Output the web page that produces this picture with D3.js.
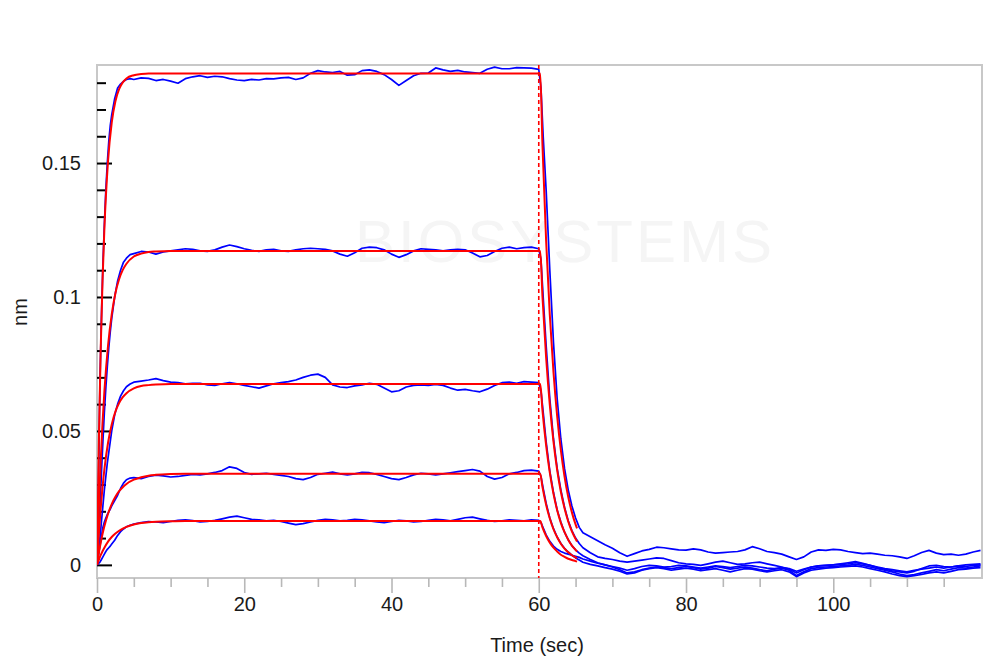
<!DOCTYPE html>
<html><head><meta charset="utf-8">
<script src="https://cdn.jsdelivr.net/npm/d3@7"></script>
<style>
html,body{margin:0;padding:0;background:#fff;}
svg{display:block;}
text{font-family:"Liberation Sans",Arial,sans-serif;}
</style></head>
<body>
<svg id="chart" width="1000" height="669"></svg>
<script>
// ---------- DATA ----------
const xTickLabels = [0, 20, 40, 60, 80, 100];
const yTickValues = [0, 0.05, 0.1, 0.15];
const yTickLabels = ["0", "0.05", "0.1", "0.15"];
const xLabel = "Time (sec)";
const yLabel = "nm";
const watermark = "BIOSYSTEMS";

// measured sensorgram sampling times (s)
const time = [0,0.2,0.4,0.6,0.8,1,1.2,1.4,1.6,1.8,2,2.4,2.8,3.2,3.6,4,4.5,5,
6,7,8,9,10,11,12,13,14,15,16,17,18,19,20,21,22,23,24,25,26,27,28,29,30,31,32,33,34,35,36,37,38,39,40,41,42,43,44,45,46,47,48,49,50,51,52,53,54,55,56,57,58,59,60,
60.3,60.6,61,61.5,62,62.5,63,63.5,64,64.5,65,65.5,66,
67,68,69,70,71,72,73,74,75,76,77,78,79,80,81,82,83,84,85,86,87,88,89,90,91,92,93,94,95,96,97,98,99,100,101,102,103,104,105,106,107,108,109,110,111,112,113,114,115,116,117,118,119,120];

// measured responses (nm), blue traces
const s5 = [0,0.030,0.068,0.092,0.112,0.127,0.140,0.150,0.158,0.164,0.168,0.174,0.178,0.1795,0.1805,0.1812,0.1815,0.1812,
0.1818,0.1816,0.1808,0.1812,0.1806,0.1798,0.1815,0.1822,0.1826,0.1820,0.1824,0.1822,0.1815,0.1810,0.1808,0.1812,0.1810,0.1815,0.1814,0.1818,0.1820,0.1812,0.1818,0.1835,0.1845,0.1840,0.1838,0.1842,0.1828,0.1830,0.1845,0.1848,0.1842,0.1830,0.1812,0.1790,0.1808,0.1826,0.1835,0.1836,0.1855,0.1848,0.1842,0.1846,0.1840,0.1838,0.1835,0.1850,0.1858,0.1852,0.1852,0.1856,0.1855,0.1854,0.1850,
0.178,0.160,0.140,0.110,0.083,0.062,0.047,0.036,0.028,0.022,0.0175,0.014,0.012,
0.0105,0.0090,0.0075,0.0062,0.0045,0.0032,0.0042,0.0052,0.0058,0.0066,0.0064,0.0060,0.0056,0.0055,0.0060,0.0056,0.0048,0.0044,0.0046,0.0048,0.0050,0.0056,0.0068,0.0060,0.0050,0.0046,0.0040,0.0030,0.0020,0.0030,0.0048,0.0056,0.0054,0.0058,0.0056,0.0050,0.0046,0.0042,0.0044,0.0040,0.0036,0.0034,0.0030,0.0024,0.0034,0.0046,0.0054,0.0044,0.0038,0.0040,0.0036,0.0040,0.0048,0.0054];

const s4 = [0,0.010,0.022,0.034,0.046,0.057,0.066,0.074,0.081,0.087,0.092,0.100,0.106,0.110,0.113,0.1145,0.1158,0.1162,
0.1170,0.1168,0.1160,0.1168,0.1172,0.1176,0.1180,0.1178,0.1172,0.1170,0.1176,0.1186,0.1194,0.1188,0.1180,0.1174,0.1170,0.1176,0.1178,0.1172,0.1170,0.1176,0.1180,0.1182,0.1180,0.1178,0.1172,0.1160,0.1152,0.1165,0.1182,0.1186,0.1184,0.1176,0.1160,0.1148,0.1158,0.1172,0.1180,0.1178,0.1176,0.1172,0.1176,0.1178,0.1176,0.1164,0.1150,0.1155,0.1170,0.1182,0.1186,0.1180,0.1184,0.1186,0.1180,
0.114,0.100,0.082,0.062,0.047,0.036,0.028,0.0215,0.0165,0.0128,0.0100,0.0080,0.0064,
0.0045,0.0030,0.0024,0.0020,0.0014,0.0010,0.0014,0.0018,0.0022,0.0026,0.0024,0.0016,0.0008,0.0004,0.0002,-0.0002,0.0004,0.0010,0.0014,0.0008,0.0002,0.0004,0.0008,0.0010,0.0004,-0.0002,-0.0008,-0.0016,-0.0030,-0.0018,-0.0008,-0.0004,-0.0002,0,0.0004,0.0008,0.0012,0.0006,-0.0002,-0.0010,-0.0016,-0.0022,-0.0026,-0.0030,-0.0024,-0.0014,-0.0004,-0.0002,-0.0006,-0.0008,-0.0004,0,0.0002,0.0004];

const s3 = [0,0.004,0.010,0.016,0.022,0.028,0.033,0.038,0.042,0.046,0.050,0.056,0.060,0.063,0.065,0.0665,0.0675,0.0682,
0.0686,0.0690,0.0695,0.0688,0.0682,0.0680,0.0676,0.0678,0.0678,0.0672,0.0670,0.0676,0.0680,0.0676,0.0670,0.0665,0.0660,0.0668,0.0676,0.0680,0.0684,0.0690,0.0700,0.0708,0.0712,0.0700,0.0672,0.0664,0.0662,0.0668,0.0672,0.0678,0.0674,0.0660,0.0646,0.0650,0.0664,0.0670,0.0672,0.0670,0.0674,0.0670,0.0660,0.0652,0.0655,0.0650,0.0646,0.0656,0.0670,0.0680,0.0682,0.0678,0.0684,0.0682,0.0680,
0.0650,0.0570,0.0460,0.0350,0.0270,0.0205,0.0160,0.0122,0.0094,0.0072,0.0056,0.0044,0.0034,
0.0020,0.0008,0,-0.0008,-0.0018,-0.0030,-0.0026,-0.0018,-0.0012,-0.0008,-0.0010,-0.0014,-0.0010,-0.0006,-0.0010,-0.0016,-0.0012,-0.0006,-0.0010,-0.0016,-0.0012,-0.0008,-0.0012,-0.0018,-0.0022,-0.0016,-0.0012,-0.0020,-0.0040,-0.0026,-0.0014,-0.0010,-0.0008,-0.0006,-0.0004,-0.0002,0.0002,-0.0002,-0.0008,-0.0014,-0.0020,-0.0026,-0.0034,-0.0040,-0.0036,-0.0030,-0.0024,-0.0018,-0.0022,-0.0016,-0.0010,-0.0012,-0.0008,-0.0004];

const s2 = [0,0.004,0.007,0.0105,0.0140,0.0160,0.0175,0.0188,0.0198,0.0208,0.0220,0.0240,0.0260,0.0285,0.0305,0.0318,0.0324,0.0326,
0.0322,0.0330,0.0335,0.0332,0.0328,0.0330,0.0334,0.0338,0.0336,0.0340,0.0345,0.0352,0.0366,0.0360,0.0345,0.0338,0.0340,0.0342,0.0338,0.0334,0.0330,0.0322,0.0318,0.0326,0.0338,0.0342,0.0346,0.0340,0.0336,0.0340,0.0345,0.0344,0.0338,0.0330,0.0322,0.0318,0.0326,0.0336,0.0342,0.0340,0.0336,0.0340,0.0344,0.0348,0.0352,0.0356,0.0350,0.0330,0.0320,0.0326,0.0340,0.0345,0.0352,0.0354,0.0350,
0.0330,0.0285,0.0230,0.0175,0.0135,0.0104,0.0080,0.0062,0.0048,0.0036,0.0026,0.0018,0.0010,
0.0002,-0.0004,-0.0010,-0.0016,-0.0024,-0.0034,-0.0030,-0.0020,-0.0014,-0.0010,-0.0014,-0.0020,-0.0016,-0.0012,-0.0016,-0.0022,-0.0018,-0.0014,-0.0020,-0.0026,-0.0020,-0.0014,-0.0016,-0.0022,-0.0026,-0.0022,-0.0018,-0.0026,-0.0044,-0.0030,-0.0020,-0.0016,-0.0012,-0.0010,-0.0008,-0.0006,-0.0004,-0.0008,-0.0014,-0.0020,-0.0026,-0.0034,-0.0040,-0.0044,-0.0040,-0.0036,-0.0030,-0.0026,-0.0030,-0.0024,-0.0018,-0.0016,-0.0012,-0.0010];

const s1 = [0,0.0005,0.0010,0.0020,0.0030,0.0040,0.0050,0.0058,0.0064,0.0070,0.0078,0.0092,0.0110,0.0124,0.0134,0.0142,0.0148,0.0152,
0.0158,0.0162,0.0160,0.0158,0.0162,0.0166,0.0168,0.0165,0.0160,0.0162,0.0166,0.0172,0.0178,0.0182,0.0176,0.0170,0.0168,0.0164,0.0166,0.0162,0.0156,0.0150,0.0154,0.0160,0.0166,0.0170,0.0168,0.0164,0.0166,0.0170,0.0168,0.0164,0.0160,0.0158,0.0162,0.0166,0.0164,0.0160,0.0162,0.0166,0.0170,0.0168,0.0164,0.0170,0.0176,0.0178,0.0172,0.0166,0.0162,0.0164,0.0168,0.0166,0.0164,0.0168,0.0166,
0.0158,0.0138,0.0112,0.0088,0.0070,0.0058,0.0050,0.0044,0.0040,0.0036,0.0032,0.0028,0.0022,
0.0014,0.0006,0,-0.0006,-0.0012,-0.0020,-0.0014,-0.0006,-0.0002,-0.0004,-0.0008,-0.0006,-0.0002,-0.0004,-0.0008,-0.0012,-0.0008,-0.0004,-0.0006,-0.0010,-0.0006,-0.0002,-0.0004,-0.0008,-0.0012,-0.0014,-0.0010,-0.0014,-0.0024,-0.0016,-0.0008,-0.0004,-0.0002,0,0.0002,0.0004,0.0008,0.0004,-0.0002,-0.0008,-0.0014,-0.0018,-0.0022,-0.0026,-0.0020,-0.0016,-0.0012,-0.0008,-0.0012,-0.0008,-0.0004,-0.0006,-0.0002,0];

// fitted curves (red), sampled times (s) and values (nm)
const fitTime = [0,0.25,0.5,0.75,1,1.5,2,2.5,3,3.5,4,5,6,7,8,10,12,60,60.2,60.5,61,61.5,62,62.5,63,63.5,64,64.5,65,65.2];
const fit5 = [0,0.0459,0.0802,0.1060,0.1253,0.1508,0.1651,0.1731,0.1776,0.1801,0.1816,0.1828,0.1832,0.1834,0.1834,0.1834,0.1834,0.1834,0.1834,0.1569,0.1210,0.0933,0.0719,0.0555,0.0428,0.0330,0.0254,0.0196,0.0151,0.0136];
const fit4 = [0,0.0212,0.0387,0.0529,0.0646,0.0819,0.0935,0.1014,0.1066,0.1101,0.1124,0.1151,0.1162,0.1168,0.1170,0.1172,0.1172,0.1172,0.1172,0.1003,0.0774,0.0597,0.0460,0.0354,0.0273,0.0211,0.0162,0.0125,0.0097,0.0087];
const fit3 = [0,0.0115,0.0211,0.0290,0.0356,0.0456,0.0524,0.0572,0.0604,0.0626,0.0641,0.0659,0.0668,0.0671,0.0673,0.0675,0.0675,0.0675,0.0675,0.0578,0.0446,0.0344,0.0265,0.0204,0.0157,0.0122,0.0094,0.0072,0.0056,0.0050];
const fit2 = [0,0.0044,0.0082,0.0115,0.0144,0.0191,0.0227,0.0254,0.0275,0.0290,0.0302,0.0318,0.0327,0.0333,0.0336,0.0339,0.0340,0.0340,0.0340,0.0291,0.0224,0.0173,0.0133,0.0103,0.0079,0.0061,0.0047,0.0036,0.0028,0.0025];
const fit1 = [0,0.0019,0.0036,0.0051,0.0064,0.0087,0.0104,0.0117,0.0127,0.0135,0.0142,0.0151,0.0156,0.0159,0.0161,0.0163,0.0164,0.0164,0.0164,0.0140,0.0108,0.0083,0.0064,0.0050,0.0038,0.0030,0.0023,0.0018,0.0014,0.0012];
const dissociationStart = 60;

// ---------- DRAW ----------
const svg = d3.select("#chart");
const L = 97, R = 982, T = 65, B = 578;
const x = d3.scaleLinear().domain([0, 120.2]).range([L, R]);
const y = d3.scaleLinear().domain([-0.0049, 0.1866]).range([B, T]);

svg.append("rect").attr("width",1000).attr("height",669).attr("fill","#fff");

// faint watermark
svg.append("text").attr("x",565).attr("y",262).attr("text-anchor","middle")
  .attr("font-size",60).attr("letter-spacing",3).attr("fill","#f5f5f5").text(watermark);

svg.append("defs").append("clipPath").attr("id","clip")
  .append("rect").attr("x",L).attr("y",T).attr("width",R-L).attr("height",B-T);

// frame
svg.append("rect").attr("x",L).attr("y",T).attr("width",R-L).attr("height",B-T)
  .attr("fill","none").attr("stroke","#c8c8c8").attr("stroke-width",2);

// x ticks (gray, outside)
const xAxis = d3.axisBottom(x).tickValues(d3.range(0,120,5)).tickSize(9).tickFormat("");
const gx = svg.append("g").attr("transform",`translate(0,${B})`).call(xAxis);
gx.select(".domain").remove();
gx.selectAll(".tick line").attr("stroke","#b8b8b8").attr("stroke-width",1.6)
  .attr("y2", d => xTickLabels.includes(d) ? 15 : 9);
const xLab = d3.axisBottom(x).tickValues(xTickLabels).tickSize(0).tickPadding(0).tickFormat(d3.format("d"));
const gxl = svg.append("g").attr("transform",`translate(0,${B+19})`).call(xLab);
gxl.select(".domain").remove();
gxl.selectAll("text").attr("font-size",20).attr("fill","#1a1a1a").attr("font-family","Liberation Sans, Arial, sans-serif");

// y ticks (black, inside)
const yAxis = d3.axisRight(y).tickValues(d3.range(0,0.185,0.01)).tickSize(9).tickFormat("");
const gy = svg.append("g").attr("transform",`translate(${L},0)`).call(yAxis);
gy.select(".domain").remove();
gy.selectAll(".tick line").attr("stroke","#000").attr("stroke-width",2)
  .attr("x2", (d,i) => (i % 5 === 0) ? 15 : 9);
const yLab = d3.axisLeft(y).tickValues(yTickValues).tickSize(0).tickPadding(0)
  .tickFormat((d,i) => yTickLabels[i]);
const gyl = svg.append("g").attr("transform",`translate(${L-16},0)`).call(yLab);
gyl.select(".domain").remove();
gyl.selectAll("text").attr("font-size",20).attr("fill","#1a1a1a").attr("font-family","Liberation Sans, Arial, sans-serif");

// axis titles
svg.append("text").attr("x",537).attr("y",652).attr("text-anchor","middle")
  .attr("font-size",20).attr("fill","#1a1a1a").text(xLabel);
svg.append("text").attr("transform","translate(27,312) rotate(-90)").attr("text-anchor","middle")
  .attr("font-size",20).attr("fill","#1a1a1a").text(yLabel);

const plot = svg.append("g").attr("clip-path","url(#clip)");

// blue measured traces
const blueLine = d3.line().x((d,i) => x(time[i])).y(d => y(d));
[s1,s2,s3,s4,s5].forEach(s => {
  if (s.length !== time.length) console.error("length mismatch", s.length, time.length);
  plot.append("path").attr("d", blueLine(s)).attr("fill","none")
    .attr("stroke","#0000ff").attr("stroke-width",1.7).attr("stroke-linejoin","round");
});

// dissociation start marker
plot.append("line").attr("x1",x(dissociationStart)).attr("x2",x(dissociationStart))
  .attr("y1",T).attr("y2",B).attr("stroke","#ff0000").attr("stroke-width",1.6)
  .attr("stroke-dasharray","4,3");

// red fitted curves
const redLine = d3.line().x((d,i) => x(fitTime[i])).y(d => y(d)).curve(d3.curveMonotoneX);
[fit1,fit2,fit3,fit4,fit5].forEach(f => {
  plot.append("path").attr("d", redLine(f)).attr("fill","none")
    .attr("stroke","#ff0000").attr("stroke-width",2);
});
</script>
</body></html>
